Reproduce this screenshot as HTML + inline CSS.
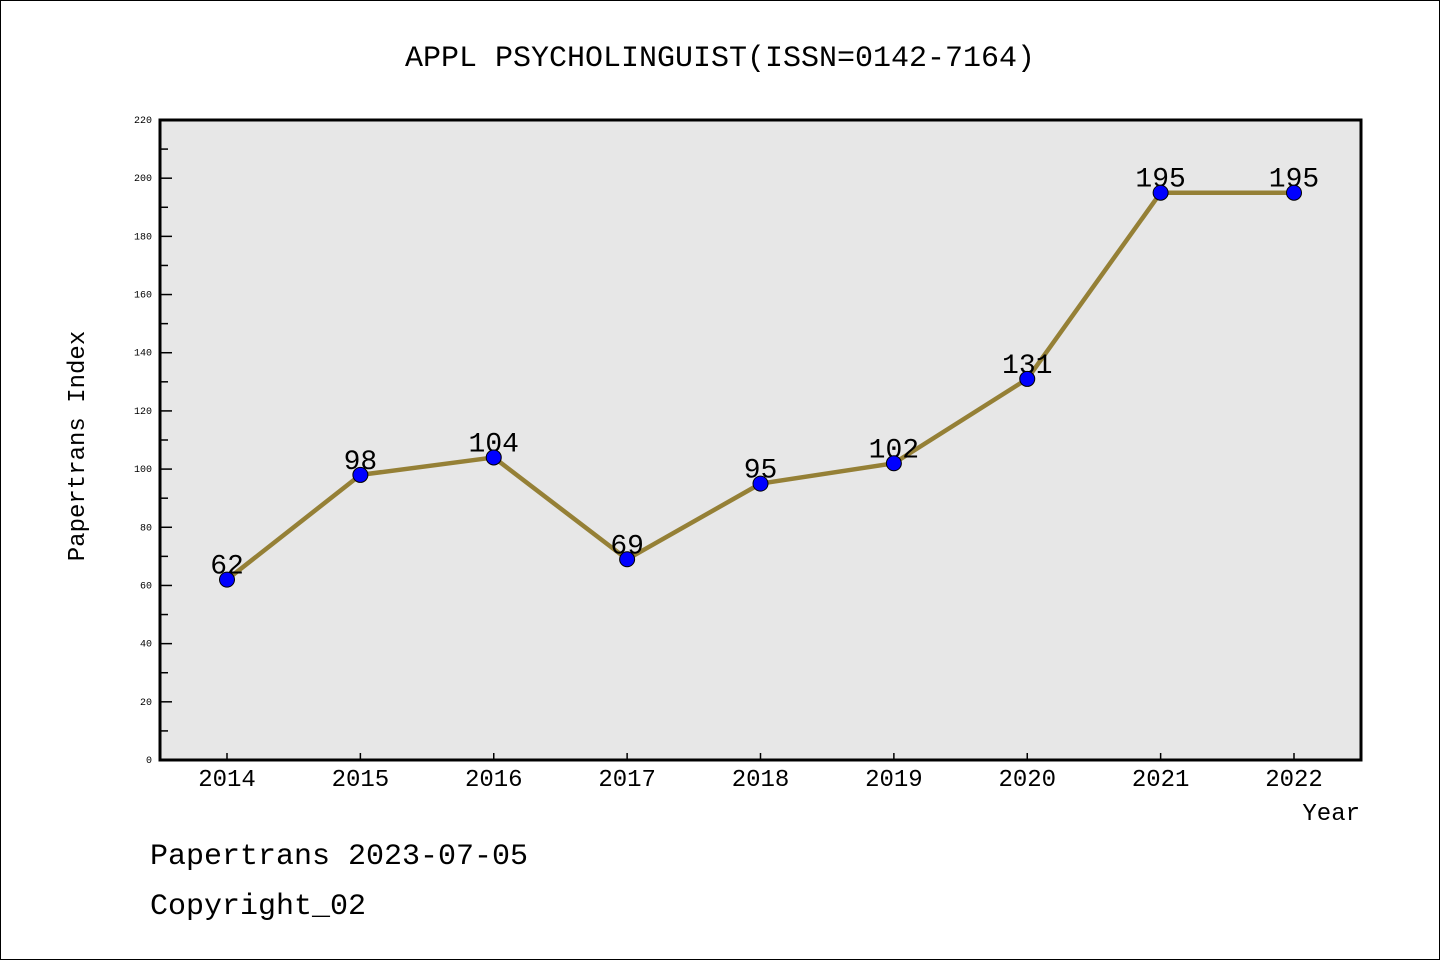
<!DOCTYPE html>
<html><head><meta charset="utf-8"><style>
html,body{margin:0;padding:0;background:#fff}
svg{display:block}
text{font-family:"Liberation Mono","DejaVu Sans Mono",monospace}
</style></head><body>
<svg id="chart" width="1440" height="960" xmlns="http://www.w3.org/2000/svg">
<rect x="0.5" y="0.5" width="1439" height="959" fill="#fff" stroke="#000"/>
<text x="720" y="66" font-size="30" text-anchor="middle">APPL PSYCHOLINGUIST(ISSN=0142-7164)</text>
<rect x="160" y="120" width="1201" height="640" fill="#e7e7e7"/>
<g id="ticks"></g>
<g id="series"></g>
<rect x="160" y="120" width="1201" height="640" fill="none" stroke="#000" stroke-width="3"/>
<text transform="translate(84,446) rotate(-90)" font-size="24" text-anchor="middle">Papertrans Index</text>
<text x="1360" y="820" font-size="24" text-anchor="end">Year</text>
<text x="150" y="864" font-size="30">Papertrans 2023-07-05</text>
<text x="150" y="914" font-size="30">Copyright_02</text>
</svg>
<script>
const years = ["2014","2015","2016","2017","2018","2019","2020","2021","2022"];
const values = [62,98,104,69,95,102,131,195,195];
const yTicks = [0,20,40,60,80,100,120,140,160,180,200,220];
const yMinorTicks = [10,30,50,70,90,110,130,150,170,190,210];

const NS="http://www.w3.org/2000/svg";
const y = v => 760 - v * (640/220);
const x = i => 227 + i * (1294-227)/(years.length-1);
function mk(tag, attrs, parent){const e=document.createElementNS(NS,tag);for(const k in attrs)e.setAttribute(k,attrs[k]);parent.appendChild(e);return e;}
const tg=document.getElementById('ticks'), sg=document.getElementById('series');
yTicks.forEach(v=>{
  const t=mk('line',{x1:160,x2:172,y1:y(v),y2:y(v),stroke:'#000','stroke-width':1.5},tg);
  
  
  const l=mk('text',{x:152,y:y(v)+3,'font-size':10,'text-anchor':'end'},tg);
  l.textContent=v;
  
  
});
yMinorTicks.forEach(v=>{
  const t=mk('line',{x1:160,x2:168,y1:y(v),y2:y(v),stroke:'#000','stroke-width':1.5},tg);
  
  
});
years.forEach((yr,i)=>{
  const t=mk('line',{x1:x(i),x2:x(i),y1:760,y2:753,stroke:'#000','stroke-width':1.5},tg);
  
  
  const l=mk('text',{x:x(i),y:786,'font-size':24,'text-anchor':'middle'},tg);
  l.textContent=yr;
  
  
});
const pts=values.map((v,i)=>x(i)+','+y(v)).join(' ');
const line=mk('polyline',{points:pts,fill:'none',stroke:'#958036','stroke-width':4.5,'stroke-linejoin':'round'},sg);


values.forEach((v,i)=>{
  const l=mk('text',{x:x(i),y:y(v)-6,'font-size':28,'text-anchor':'middle',fill:'#000'},sg);
  l.textContent=v;
  
  
});
values.forEach((v,i)=>{
  const c=mk('circle',{cx:x(i),cy:y(v),r:7.5,fill:'#0000ff',stroke:'#000','stroke-width':1},sg);
  
  
});
</script>
</body></html>
